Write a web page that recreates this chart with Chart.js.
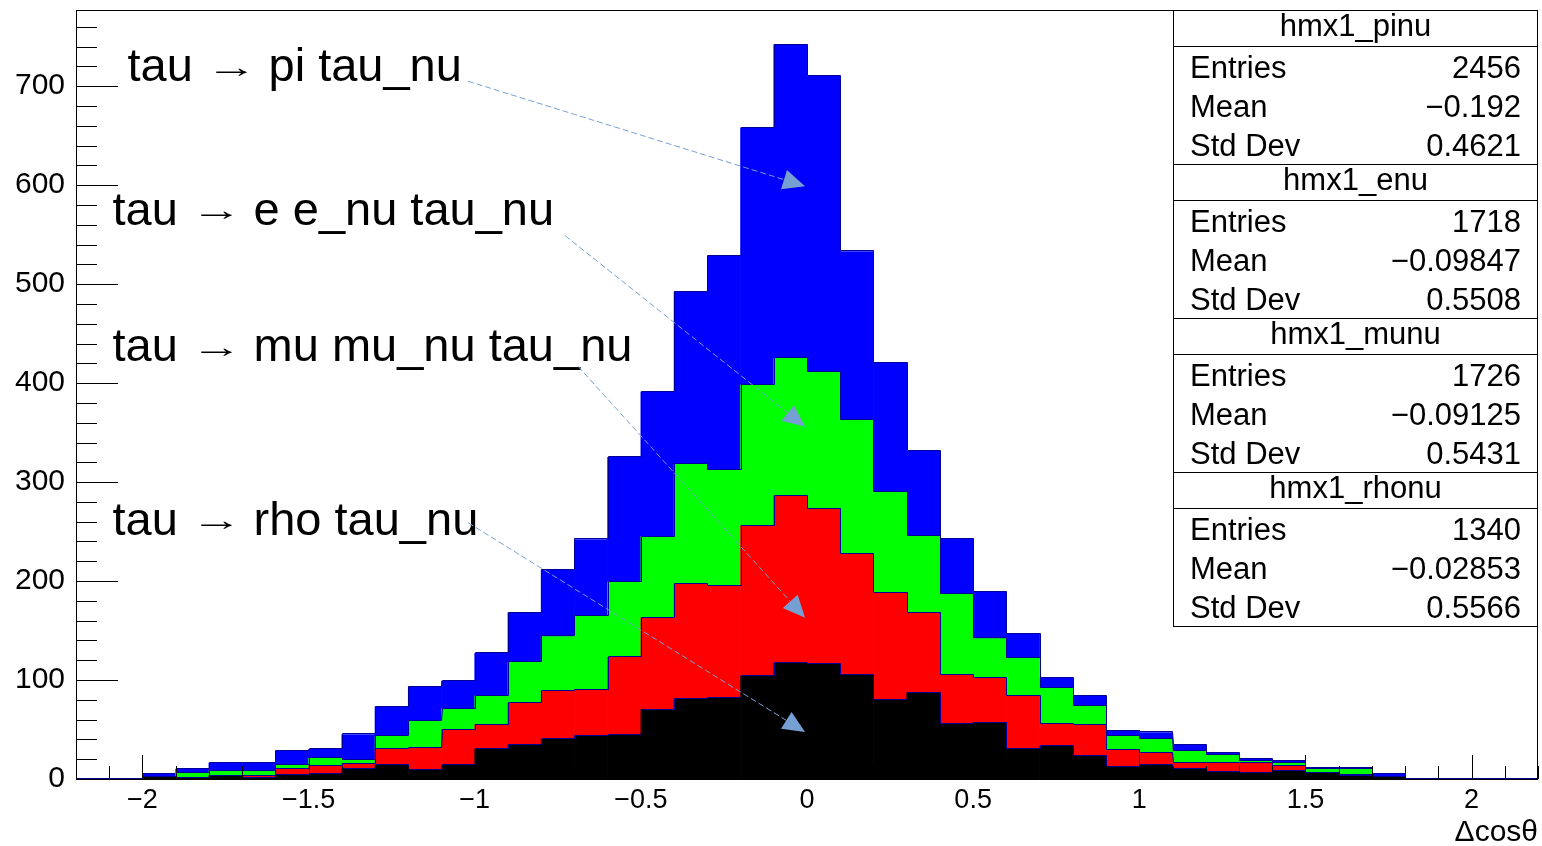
<!DOCTYPE html>
<html>
<head>
<meta charset="utf-8">
<title>hmx1 stack</title>
<script src="https://cdn.jsdelivr.net/npm/chart.js"></script>
<style>
  html, body { margin: 0; padding: 0; background: #fff; }
  #wrap { width: 1542px; height: 846px; position: relative; }
</style>
</head>
<body>
<div id="wrap"><canvas id="stack"></canvas></div>
<script>
/* ── Δcosθ stack, one histogram per tau decay channel ───── */

const BIN_LOW = -2.2;
const BIN_WIDTH = 0.1;

// bin contents, 44 bins from -2.2 to 2.2 (bottom of the stack first)
const RHONU = [0, 0, 2, 1, 3, 1, 4, 5, 10, 14, 9, 14, 30, 34, 40, 43, 44, 70, 81, 82, 104, 117,
               116, 105, 80, 87, 56, 57, 30, 33, 23, 12, 14, 10, 7, 6, 8, 6, 3, 2, 0, 0, 0, 0];
const MUNU  = [0, 0, 0, 0, 0, 2, 6, 8, 5, 16, 22, 36, 25, 43, 49, 47, 79, 93, 116, 113, 152, 169,
               157, 122, 108, 81, 49, 45, 54, 23, 32, 17, 12, 6, 9, 10, 5, 0, 1, 0, 0, 0, 0, 0];
const ENU   = [0, 0, 0, 5, 5, 5, 4, 8, 4, 13, 28, 21, 29, 41, 55, 75, 76, 82, 121, 117, 142, 139,
               138, 136, 102, 78, 82, 40, 38, 36, 19, 14, 14, 12, 8, 2, 3, 4, 6, 0, 0, 0, 0, 0];
const PINU  = [0, 0, 3, 4, 8, 8, 14, 9, 26, 30, 34, 28, 43, 50, 67, 77, 126, 146, 174, 216, 260, 317,
               299, 170, 130, 85, 56, 47, 25, 10, 10, 6, 7, 6, 2, 2, 2, 1, 1, 3, 0, 0, 0, 0];

const X_TICKS = [-2, -1.5, -1, -0.5, 0, 0.5, 1, 1.5, 2];
const Y_TICKS = [0, 100, 200, 300, 400, 500, 600, 700];
const X_MINOR = 0.1;
const Y_MINOR = 20;

// statistics boxes, top to bottom
const HIST_NAMES = ['hmx1_pinu', 'hmx1_enu', 'hmx1_munu', 'hmx1_rhonu'];
const HIST_ENTRIES = [2456, 1718, 1726, 1340];
const HIST_MEANS = [-0.192, -0.09847, -0.09125, -0.02853];
const HIST_STDDEVS = [0.4621, 0.5508, 0.5431, 0.5566];

// channel labels with arrows pointing into their layer (data units)
const NOTES = [
  { text: 'pi tau_nu',       x: -2.045, y: 705, from: [-1.02, 705],  to: [-0.006, 599] },
  { text: 'e e_nu tau_nu',   x: -2.09,  y: 560, from: [-0.728, 549], to: [-0.006, 356] },
  { text: 'mu mu_nu tau_nu', x: -2.09,  y: 422, from: [-0.689, 417], to: [-0.006, 163] },
  { text: 'rho tau_nu',      x: -2.09,  y: 247, from: [-1.02, 259],  to: [-0.006, 47.5] }
];

const FONT = "'Liberation Sans', Arial, Helvetica, sans-serif";
const LINE_COLOR = '#000099';
const ARROW_COLOR = '#76a0d4';

const fmtNum = v => String(v).replace('-', '\u2212');
const centres = RHONU.map((_, i) => +(BIN_LOW + (i + 0.5) * BIN_WIDTH).toFixed(3));
const toPoints = arr => arr.map((v, i) => ({ x: centres[i], y: v }));

// step outline of each cumulative layer, drawn right after its fill
const histOutline = {
  id: 'histOutline',
  afterDatasetDraw(chart, args) {
    const ctx = chart.ctx;
    const bars = args.meta.data;
    ctx.save();
    ctx.strokeStyle = LINE_COLOR;
    ctx.lineWidth = 1;
    ctx.beginPath();
    bars.forEach((bar, j) => {
      const { x, y, width } = bar.getProps(['x', 'y', 'width'], true);
      const left = Math.round(x - width / 2) + 0.5;
      const right = Math.round(x + width / 2) + 0.5;
      const top = Math.round(y) - 0.5;
      if (j === 0) ctx.moveTo(left, top); else ctx.lineTo(left, top);
      ctx.lineTo(right, top);
    });
    ctx.stroke();
    ctx.restore();
  }
};

// frame and inward ticks
const rootAxes = {
  id: 'rootAxes',
  afterDatasetsDraw(chart) {
    const { ctx, chartArea: a, scales: { x, y } } = chart;
    ctx.save();
    ctx.strokeStyle = '#000';
    ctx.lineWidth = 1;
    ctx.beginPath();
    const n0 = Math.ceil(x.min / X_MINOR - 1e-6), n1 = Math.floor(x.max / X_MINOR + 1e-6);
    for (let i = n0; i <= n1; i++) {
      const v = i * X_MINOR;
      const major = X_TICKS.some(t => Math.abs(t - v) < 1e-6);
      const px = Math.round(x.getPixelForValue(v)) + 0.5;
      ctx.moveTo(px, a.bottom);
      ctx.lineTo(px, a.bottom - (major ? 24 : 13));
    }
    for (let v = Y_MINOR; v <= y.max; v += Y_MINOR) {
      const major = Y_TICKS.includes(v);
      const py = Math.round(y.getPixelForValue(v)) + 0.5;
      ctx.moveTo(a.left, py);
      ctx.lineTo(a.left + (major ? 42 : 21), py);
    }
    ctx.stroke();
    ctx.strokeRect(a.left + 0.5, a.top + 0.5, a.right - a.left - 1, a.bottom - a.top);
    ctx.restore();
  }
};

const decayNotes = {
  id: 'decayNotes',
  afterDatasetsDraw(chart) {
    const { ctx, scales: { x, y } } = chart;
    ctx.save();
    NOTES.forEach(n => {
      const tx = x.getPixelForValue(n.x), ty = y.getPixelForValue(n.y);
      ctx.fillStyle = '#000';
      ctx.font = `47px ${FONT}`;
      ctx.textAlign = 'left';
      ctx.textBaseline = 'alphabetic';
      ctx.fillText('tau', tx, ty);
      ctx.fillText(n.text, tx + 141, ty);

      // flat arrow glyph, centred between "tau" and the products
      ctx.save();
      ctx.font = `30px ${FONT}`;
      const m = ctx.measureText('\u2192');
      const gw = m.actualBoundingBoxLeft + m.actualBoundingBoxRight;
      const sx = 31 / gw;
      const cy = ty - 9.6;
      const base = cy + (m.actualBoundingBoxAscent - m.actualBoundingBoxDescent) / 2;
      ctx.translate(tx + 104, 0);
      ctx.scale(sx, 1);
      ctx.textAlign = 'left';
      ctx.fillText('\u2192', -(m.actualBoundingBoxRight - m.actualBoundingBoxLeft) / 2, base);
      ctx.restore();

      const x0 = x.getPixelForValue(n.from[0]), y0 = y.getPixelForValue(n.from[1]);
      const x1 = x.getPixelForValue(n.to[0]), y1 = y.getPixelForValue(n.to[1]);
      const ang = Math.atan2(y1 - y0, x1 - x0);
      const len = 22, half = 10;
      const bx = x1 - len * Math.cos(ang), by = y1 - len * Math.sin(ang);
      ctx.strokeStyle = ARROW_COLOR;
      ctx.lineWidth = 1;
      ctx.setLineDash([6, 3]);
      ctx.beginPath();
      ctx.moveTo(x0, y0);
      ctx.lineTo(bx, by);
      ctx.stroke();
      ctx.setLineDash([]);
      ctx.fillStyle = ARROW_COLOR;
      ctx.beginPath();
      ctx.moveTo(x1, y1);
      ctx.lineTo(bx + half * Math.sin(ang), by - half * Math.cos(ang));
      ctx.lineTo(bx - half * Math.sin(ang), by + half * Math.cos(ang));
      ctx.closePath();
      ctx.fill();
    });
    ctx.restore();
  }
};

const statsBox = {
  id: 'statsBox',
  afterDatasetsDraw(chart) {
    const { ctx, chartArea: a } = chart;
    const left = a.right - 365, right = a.right, top = a.top, bottom = 626;
    const sect = (bottom - top) / HIST_NAMES.length;
    ctx.save();
    ctx.fillStyle = '#fff';
    ctx.fillRect(left, top, right - left, bottom - top);
    ctx.strokeStyle = '#000';
    ctx.lineWidth = 1;
    ctx.beginPath();
    HIST_NAMES.forEach((_, k) => {
      const s0 = Math.round(top + k * sect);
      if (k > 0) { ctx.moveTo(left, s0 + 0.5); ctx.lineTo(right, s0 + 0.5); }
      ctx.moveTo(left, s0 + 36.5); ctx.lineTo(right, s0 + 36.5);
    });
    ctx.stroke();
    ctx.strokeRect(left + 0.5, top + 0.5, right - left - 1, bottom - top);

    ctx.fillStyle = '#000';
    ctx.font = `31px ${FONT}`;
    ctx.textBaseline = 'middle';
    HIST_NAMES.forEach((name, k) => {
      const s0 = top + k * sect;
      ctx.textAlign = 'center';
      ctx.fillText(name, (left + right) / 2, s0 + 17);
      const rows = [['Entries', String(HIST_ENTRIES[k])],
                    ['Mean', fmtNum(HIST_MEANS[k])],
                    ['Std Dev', fmtNum(HIST_STDDEVS[k])]];
      rows.forEach(([lab, val], r) => {
        const ry = s0 + 59 + r * 39;
        ctx.textAlign = 'left';
        ctx.fillText(lab, left + 17, ry);
        ctx.textAlign = 'right';
        ctx.fillText(val, right - 17, ry);
      });
    });
    ctx.restore();
  }
};

new Chart(document.getElementById('stack'), {
  type: 'bar',
  data: {
    datasets: [
      { label: 'hmx1_rhonu', data: toPoints(RHONU), backgroundColor: '#000000' },
      { label: 'hmx1_munu', data: toPoints(MUNU), backgroundColor: '#ff0000' },
      { label: 'hmx1_enu', data: toPoints(ENU), backgroundColor: '#00ff00' },
      { label: 'hmx1_pinu', data: toPoints(PINU), backgroundColor: '#0000ff' }
    ]
  },
  options: {
    responsive: true,
    maintainAspectRatio: false,
    animation: false,
    devicePixelRatio: 1,
    layout: { padding: { top: 10, right: 4, bottom: 0, left: 0 } },
    datasets: { bar: { barPercentage: 1, categoryPercentage: 1, borderWidth: 0 } },
    plugins: { legend: { display: false }, tooltip: { enabled: false } },
    scales: {
      x: {
        type: 'linear', min: -2.2, max: 2.2, offset: false, stacked: true,
        grid: { display: false, drawTicks: false },
        border: { display: false },
        afterBuildTicks: s => { s.ticks = X_TICKS.map(v => ({ value: v })); },
        afterFit: s => { s.height = 67; s.paddingLeft = 0; s.paddingRight = 0; },
        ticks: {
          padding: 5, maxRotation: 0, autoSkip: false, color: '#000',
          font: { family: FONT, size: 27 },
          callback: v => fmtNum(v)
        },
        title: {
          display: true, text: 'Δcosθ', align: 'end', color: '#000', padding: 0,
          font: { family: FONT, size: 30, lineHeight: 0.9 }
        }
      },
      y: {
        min: 0, max: 777, stacked: true,
        grid: { display: false, drawTicks: false },
        border: { display: false },
        afterBuildTicks: s => { s.ticks = Y_TICKS.map(v => ({ value: v })); },
        afterFit: s => { s.width = 76; s.paddingTop = 0; s.paddingBottom = 0; },
        ticks: { padding: 11, color: '#000', font: { family: FONT, size: 30 } }
      }
    }
  },
  plugins: [histOutline, rootAxes, decayNotes, statsBox]
});
</script>
</body>
</html>
